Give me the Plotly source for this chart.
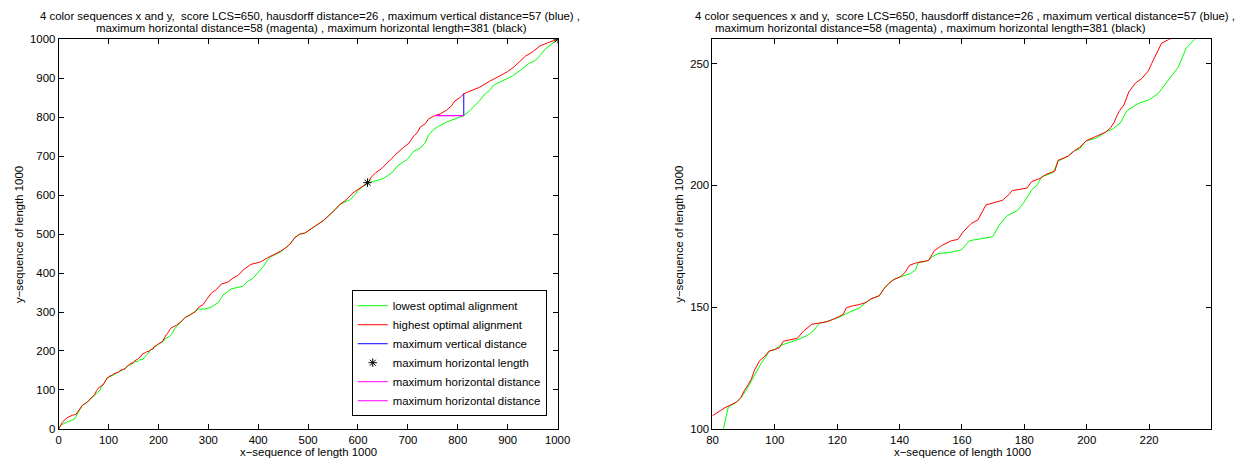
import plotly.graph_objects as go

# ---------------- data ----------------
green_x = [0, 4.9, 18, 31, 34.4, 37.7, 47.5, 57.4, 67.2, 72, 78, 83.5, 85.1, 86.1, 87.7, 89.1, 90.8, 92.4, 94, 95.6,
           97.2, 98.2, 99.8, 101.9, 104, 107.2, 110.3, 112.4, 114, 114.5, 116.6, 118.7, 120.8, 124, 127.2, 129.3,
           130.8, 133.5, 135.1, 136.6, 138.2, 140.3, 143.5, 145.1, 146.1, 147.2, 149.3, 150.3, 152.4, 156.6, 159.8,
           162.4, 169.8, 171.9, 174.5, 177.7, 179.8, 182.4, 184, 185.6, 189.3, 190.8, 194, 196.1, 197.7, 199.8,
           202.9, 206.6, 208.2, 210.8, 212.9, 216.6, 219.8, 222.9, 225.1, 227.2, 229.3, 231.9, 234.5, 239, 244.3,
           254.1, 264, 273.8, 280.3, 293.4, 306.6, 319.7, 329.5, 345.9, 368.9, 378.7, 388.5, 398.4, 411.5, 418,
           424.6, 444.3, 457.4, 464, 473.8, 483.6, 493.4, 501, 514.5, 531, 544, 554, 564, 573.7, 583.6, 593.4, 600,
           610, 619.7, 629.6, 649.3, 659.2, 669, 679, 688.8, 698.7, 711.8, 725, 734.9, 741.4, 751.3, 761.2, 777.6,
           794, 811.8, 820.4, 830.3, 843.4, 853.3, 863, 873, 889.5, 909.2, 925.7, 942.1, 955.3, 965.1, 975, 988, 1000]
green_y = [0, 10, 18.4, 24.3, 31, 39.4, 60.3, 68.7, 81.2, 87, 94, 100, 109.1, 109.7, 111, 112.8, 115.9, 119.5, 123.5,
           126.9, 129.8, 132, 132.5, 134.3, 135.2, 136.6, 138.3, 140.3, 143, 143.5, 144, 145, 146, 148, 149.7, 152,
           153.4, 154.7, 157.8, 159.8, 161.4, 162.5, 163.8, 165.3, 168.5, 168.5, 169.2, 170.6, 172, 172.6, 173.5,
           177.3, 178.9, 183.6, 187.6, 189.6, 192.9, 198.3, 200, 203.6, 205.3, 209.9, 212, 214.3, 215, 218.3, 219.3,
           222.3, 223, 225.7, 230.7, 233.7, 235, 237.7, 241.7, 245, 248.4, 256.4, 259.8, 266, 273.9,
           286.4, 293.1, 300.7, 307.4, 307.4, 313.2, 324.1, 343.4, 359.3, 366, 378.6, 385.3, 399.5, 418.8, 433,
           441.4, 454, 466.5, 474.9, 491.6, 500, 502.5, 510, 521, 535, 550, 562.5, 576.7, 583, 588, 600, 612,
           622, 631.7, 635, 641.7, 650, 658.3, 675, 683.3, 691.7, 712.5, 720.8, 735, 754.2, 768.3, 776.7, 787.5,
           795.8, 804.2, 812.5, 825, 841.7, 858.3, 868.3, 883.3, 893.3, 905.8, 920.8, 937.5, 945.8, 958.3, 975,
           987.5, 1000]

red_x = [0, 8.2, 18, 27.9, 34.4, 44.3, 47.5, 57.4, 67.2, 72, 76, 78, 80, 81.4, 82.9, 84, 85.6, 87.7, 89.1, 90.1, 91.4,
         92.4, 93.5, 95.1, 96.6, 98.2, 99.8, 101.4, 102.7, 105.1, 107.2, 109.3, 111.9, 114.5, 116.6, 118.7, 120.3,
         121.9, 122.9, 124.5, 127.2, 129.3, 130.8, 133.5, 135.1, 136.6, 138.2, 140.3, 141.9, 143.2, 145.1, 147.2,
         149.3, 151.2, 153.5, 156.6, 158.7, 160.3, 163, 165.1, 167.7, 173, 175.1, 176.1, 180.8, 182.4, 185.1, 186.9,
         189.8, 190.8, 194, 196.1, 197.7, 199.8, 202.4, 206.1, 207.7, 208.7, 210.3, 211.9, 213.5, 215.6, 217.7,
         219.8, 220.8, 222.4, 224, 226.1, 230, 236, 244.3, 254.1, 264, 273.8, 280.3, 290.2, 296.7, 306.6, 316.4,
         326.2, 339.3, 349.2, 359, 372.1, 385.2, 404.9, 418, 431.1, 444.3, 457.4, 464, 473.8, 483.6, 493.4, 501,
         514.5, 531, 544, 554, 564, 573.7, 590, 600, 610, 619.7, 626.3, 636, 646, 655.9, 662.5, 672.4, 682.2, 692,
         702, 711.8, 718.4, 725, 734.9, 741.4, 754, 764.5, 777.6, 787.5, 794, 803.9, 811.8, 823.7, 843.4, 863,
         882.9, 899.3, 912.5, 922.4, 935.5, 948.7, 965, 981.6, 1000]
red_y = [0, 18.4, 29.3, 35.2, 36.9, 56, 60.3, 68.7, 81.2, 88, 98, 103, 105.4, 106.7, 107.8, 108.7, 109.7, 111, 112.8,
         115.5, 118.1, 120.2, 124.2, 128, 129.6, 132, 132.5, 133.3, 136, 136.6, 137.2, 140.3, 143, 143.5, 144, 145,
         146.1, 147, 149.7, 150.4, 151.1, 152, 153.4, 154.7, 157.8, 159.8, 161.4, 162.5, 164.5, 167.2, 168.1, 168.5,
         169.2, 173.3, 175.3, 177.3, 177.8, 180.8, 184.4, 185.8, 192, 193.9, 196.3, 197.9, 198.9, 201.6, 202.9,
         204.5, 205.9, 210.3, 212, 214.3, 215.6, 218.3, 219.7, 221.9, 223.7, 225.7, 230.3, 233, 238.4, 242, 244,
         247.1, 250, 254.4, 258.4, 259.8, 262, 266, 273.9, 286.4, 293.1, 300.7, 311.6, 319.9, 332.5, 349.2, 357.6,
         371.9, 376.9, 386.9, 393.6, 410.4, 422.1, 428.8, 438.9, 447.2, 455.6, 466.5, 474.9, 491.6, 500, 502.5, 510,
         521, 535, 550, 562.5, 576.7, 585, 605.8, 615, 623.3, 631.7, 645.8, 658.3, 666.7, 679.2, 690, 701.7, 712.5,
         723.3, 733.3, 751.7, 760, 775, 783.3, 795.8, 804, 808.3, 818.3, 829.2, 841.7, 850, 860, 866.7, 876.7, 891.7,
         905.8, 916.7, 929.2, 941.7, 956.7, 966.7, 983.3, 991.7, 1000]

vert_x = [812, 812]
vert_y = [804, 861]
horiz_x = [754, 812]
horiz_y = [804, 804]
star_x = [619, 1000]
star_y = [632, 1000]

title_line1 = "4 color sequences x and y,\u00a0 score LCS=650, hausdorff distance=26 , maximum vertical distance=57 (blue) ,"
title_line2 = "maximum horizontal distance=58 (magenta) , maximum horizontal length=381 (black)"
xlabel = "x\u2212sequence of length 1000"
ylabel = "y\u2212sequence of length 1000"

left_xticks = list(range(0, 1001, 100))
left_yticks = list(range(0, 1001, 100))
right_xticks = [80, 100, 120, 140, 160, 180, 200, 220]
right_yticks = [100, 150, 200, 250]

# ---------------- figure ----------------
# the page body keeps its default 8px margin, so the figure is placed OFF px in
OFF = 8
WIN_W, WIN_H = 1255, 468
W, H = WIN_W - OFF, WIN_H - OFF
FONT = "Liberation Sans, Arial, Helvetica, sans-serif"
FS = 11.4
GREEN, RED, BLUE, MAG = "#00ff00", "#ff0000", "#0000ff", "#ff00ff"


def px_x(p):
    return (p - OFF) / W


def px_y(p):
    return 1 - (p - OFF) / H


fig = go.Figure()
fig.add_trace(go.Scatter(x=green_x, y=green_y, mode="lines", line=dict(color=GREEN, width=1),
                         name="lowest optimal alignment", xaxis="x", yaxis="y"))
fig.add_trace(go.Scatter(x=red_x, y=red_y, mode="lines", line=dict(color=RED, width=1),
                         name="highest optimal alignment", xaxis="x", yaxis="y"))
fig.add_trace(go.Scatter(x=vert_x, y=vert_y, mode="lines", line=dict(color=BLUE, width=1),
                         name="maximum vertical distance", xaxis="x", yaxis="y"))
fig.add_trace(go.Scatter(x=star_x, y=star_y, mode="markers",
                         marker=dict(symbol="asterisk-open", size=7, color="black", line=dict(color="black", width=1)),
                         name="maximum horizontal length", xaxis="x", yaxis="y"))
fig.add_trace(go.Scatter(x=horiz_x, y=horiz_y, mode="lines", line=dict(color=MAG, width=1),
                         name="maximum horizontal distance", xaxis="x", yaxis="y"))
fig.add_trace(go.Scatter(x=horiz_x, y=horiz_y, mode="lines", line=dict(color=MAG, width=1),
                         name="maximum horizontal distance", xaxis="x", yaxis="y"))

fig.add_trace(go.Scatter(x=green_x, y=green_y, mode="lines", line=dict(color=GREEN, width=1),
                         showlegend=False, xaxis="x2", yaxis="y2"))
fig.add_trace(go.Scatter(x=red_x, y=red_y, mode="lines", line=dict(color=RED, width=1),
                         showlegend=False, xaxis="x2", yaxis="y2"))

ax_common = dict(showline=True, linecolor="black", linewidth=1, mirror="ticks", ticks="inside",
                 ticklen=5, tickcolor="black", tickwidth=1, showgrid=False, zeroline=False,
                 tickfont=dict(family=FONT, size=FS, color="black"))

yd = [px_y(434), px_y(34)]
fig.update_layout(
    width=W, height=H,
    margin=dict(l=0, r=0, t=0, b=0),
    paper_bgcolor="white", plot_bgcolor="white",
    font=dict(family=FONT, size=FS, color="black"),
    xaxis=dict(domain=[px_x(53.3), px_x(560)], range=[0, 1000], tickvals=left_xticks, anchor="y", **ax_common),
    yaxis=dict(domain=yd, range=[0, 1000], tickvals=left_yticks, anchor="x", **ax_common),
    xaxis2=dict(domain=[px_x(717.3), px_x(1224)], range=[80, 240], tickvals=right_xticks, anchor="y2", **ax_common),
    yaxis2=dict(domain=yd, range=[100, 260], tickvals=right_yticks, anchor="x2", **ax_common),
    legend=dict(x=px_x(549), y=px_y(421), xanchor="right", yanchor="bottom",
                bgcolor="white", bordercolor="black", borderwidth=1,
                font=dict(family=FONT, size=FS, color="black"), itemwidth=30,
                tracegroupgap=0),
    showlegend=True,
)

ann = []
for cx1, cx2, axc, ylx in [(309, 310, 306.7, 13), (974, 939, 970.7, 683)]:
    ann.append(dict(text=title_line1, x=px_x(cx1), y=px_y(10), xref="paper", yref="paper",
                    xanchor="center", yanchor="middle", showarrow=False, font=dict(size=FS)))
    ann.append(dict(text=title_line2, x=px_x(cx2), y=px_y(22.7), xref="paper", yref="paper",
                    xanchor="center", yanchor="middle", showarrow=False, font=dict(size=FS)))
    ann.append(dict(text=xlabel, x=px_x(axc), y=px_y(458), xref="paper", yref="paper",
                    xanchor="center", yanchor="middle", showarrow=False, font=dict(size=FS)))
    ann.append(dict(text=ylabel, x=px_x(ylx), y=px_y(234), xref="paper", yref="paper", textangle=-90,
                    xanchor="center", yanchor="middle", showarrow=False, font=dict(size=FS)))
fig.update_layout(annotations=ann)

fig.write_html("out.html")
